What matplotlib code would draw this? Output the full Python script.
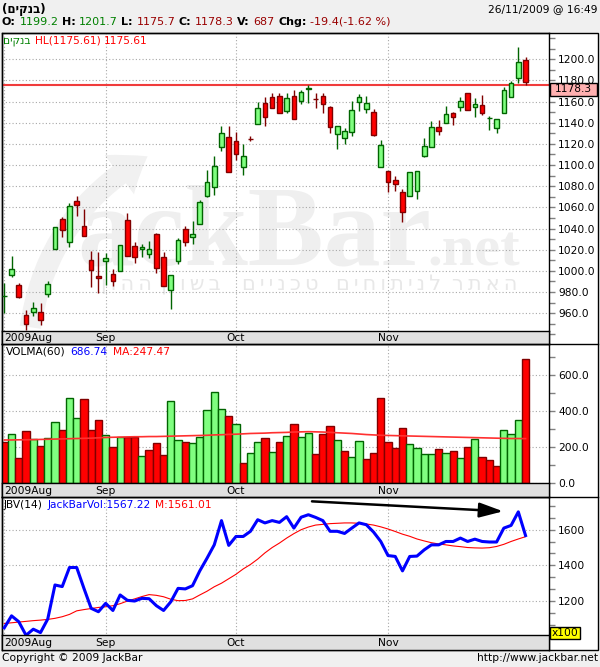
import matplotlib
matplotlib.use("Agg")
import matplotlib.pyplot as plt
from matplotlib.patches import Rectangle, FancyArrowPatch
from matplotlib.lines import Line2D
from matplotlib.transforms import Affine2D
from matplotlib.ticker import FormatStrFormatter
import numpy as np

plt.rcParams.update({'font.size': 7.7, 'font.family': ['DejaVu Sans']})

# ---------------- data ----------------
opens = [976.2, 995.9, 986.5, 958.1, 961.6, 961.0, 977.9, 1020.5, 1048.8, 1027.0,
         1065.8, 1042.5, 1010.4, 995.3, 1009.8, 996.9, 999.7, 1047.9, 1023.3, 1020.5,
         1015.7, 1034.9, 1012.9, 982.0, 1009.8, 1039.4, 1031.8, 1044.1, 1071.2, 1079.1,
         1117.5, 1126.3, 1122.8, 1098.6, 1124.8, 1138.6, 1158.7, 1164.1, 1165.4, 1151.5,
         1165.4, 1160.9, 1171.7, 1162.8, 1165.4, 1154.6, 1129.1, 1125.4, 1131.3, 1159.7,
         1152.8, 1150.2, 1098.6, 1094.2, 1086.0, 1074.3, 1070.9, 1075.9, 1109.0, 1117.5,
         1136.4, 1140.2, 1149.0, 1154.6, 1167.9, 1154.6, 1156.5, 1144.6, 1134.8, 1149.6,
         1164.7, 1182.0, 1199.2]
highs = [988.3, 1014.2, 989.0, 963.1, 970.4, 969.4, 990.6, 1041.3, 1051.3, 1063.9,
         1070.9, 1058.6, 1019.2, 1018.0, 1016.7, 1001.6, 1024.2, 1054.5, 1027.4, 1025.5,
         1028.3, 1036.2, 1018.0, 995.9, 1030.9, 1042.5, 1047.2, 1067.0, 1095.4, 1108.7,
         1137.0, 1137.0, 1131.3, 1119.7, 1127.9, 1159.4, 1164.1, 1168.5, 1167.9, 1167.9,
         1171.0, 1171.0, 1175.4, 1167.9, 1167.9, 1155.9, 1137.0, 1134.8, 1160.6, 1166.9,
         1165.4, 1152.8, 1123.8, 1094.2, 1089.8, 1077.2, 1093.9, 1094.5, 1125.4, 1141.7,
         1142.7, 1155.9, 1150.6, 1164.7, 1167.9, 1163.1, 1166.3, 1146.5, 1143.3, 1173.5,
         1179.8, 1212.0, 1201.7]
lows = [960.0, 994.0, 974.0, 944.2, 956.9, 949.0, 975.7, 1020.5, 1031.8, 1022.4,
        1052.3, 1033.4, 984.3, 979.5, 986.8, 985.8, 999.7, 1014.2, 1007.2, 1013.5,
        1012.3, 998.4, 985.5, 963.8, 1006.6, 1023.9, 1025.2, 1044.1, 1069.6, 1071.8,
        1113.7, 1093.9, 1104.9, 1090.7, 1123.1, 1138.6, 1137.3, 1154.3, 1149.0, 1149.6,
        1143.3, 1157.5, 1159.1, 1153.7, 1149.0, 1130.7, 1115.0, 1120.3, 1127.6, 1151.5,
        1149.6, 1127.9, 1098.0, 1075.0, 1075.9, 1046.0, 1070.9, 1067.7, 1107.4, 1117.5,
        1128.5, 1140.2, 1138.0, 1151.5, 1152.1, 1145.8, 1147.4, 1133.2, 1130.7, 1149.0,
        1164.1, 1178.0, 1175.7]
closes = [976.6, 1001.6, 975.1, 949.6, 964.7, 953.7, 987.4, 1041.3, 1038.7, 1061.4,
          1062.0, 1033.4, 1000.9, 993.1, 1012.0, 990.9, 1024.2, 1014.2, 1012.9, 1022.4,
          1020.5, 1002.5, 985.5, 995.9, 1029.3, 1027.4, 1034.9, 1065.5, 1083.8, 1099.2,
          1130.1, 1093.9, 1110.2, 1108.3, 1124.2, 1153.7, 1145.8, 1154.3, 1149.6, 1163.1,
          1143.3, 1169.1, 1172.6, 1162.2, 1157.8, 1135.7, 1137.0, 1132.3, 1152.1, 1164.1,
          1158.7, 1128.5, 1119.1, 1084.4, 1081.9, 1056.1, 1093.9, 1094.5, 1118.1, 1135.7,
          1132.6, 1148.3, 1145.8, 1160.9, 1152.1, 1157.5, 1149.0, 1144.6, 1143.3, 1171.0,
          1177.3, 1197.2, 1178.3]

volume = [227, 271, 138, 290, 246, 207, 249, 338, 295, 471,
          360, 465, 295, 349, 266, 199, 258, 258, 255, 150,
          183, 222, 155, 454, 238, 227, 222, 258, 404, 504,
          410, 371, 327, 111, 166, 227, 249, 172, 227, 260,
          327, 255, 281, 161, 271, 316, 238, 177, 144, 233,
          133, 166, 471, 227, 194, 305, 216, 194, 161, 161,
          188, 166, 177, 138, 199, 244, 144, 127, 94, 294,
          271, 349, 687]
vol_up = [0, 1, 0, 0, 1, 0, 1, 1, 0, 1,
          1, 0, 0, 0, 1, 0, 1, 0, 0, 1,
          0, 0, 0, 1, 1, 0, 1, 1, 1, 1,
          1, 0, 1, 0, 1, 1, 0, 1, 0, 1,
          0, 1, 1, 0, 0, 0, 1, 0, 1, 1,
          0, 0, 0, 0, 0, 0, 1, 1, 1, 1,
          0, 1, 0, 1, 0, 1, 0, 0, 0, 1,
          1, 1, 0]
vol_ma = [240, 240, 241, 241, 242, 243, 244, 245, 246, 247,
          248, 249, 250, 252, 254, 255, 256, 257, 258, 258,
          259, 259, 260, 261, 262, 263, 264, 265, 266, 268,
          269, 271, 272, 274, 276, 277, 278, 280, 281, 282,
          284, 285, 286, 285, 284, 282, 280, 278, 276, 273,
          270, 268, 266, 265, 264, 263, 262, 261, 260, 259,
          258, 257, 256, 255, 254, 253, 252, 251, 250, 249,
          248, 248, 247.47]

jbv = [1050, 1117, 1084, 1008, 1042, 1023, 1099, 1290, 1281, 1388,
       1388, 1271, 1159, 1140, 1187, 1147, 1234, 1204, 1200, 1215,
       1213, 1174, 1147, 1196, 1271, 1268, 1286, 1369, 1440, 1515,
       1651, 1512, 1562, 1562, 1591, 1656, 1638, 1651, 1641, 1673,
       1609, 1670, 1684, 1669, 1651, 1591, 1591, 1579, 1609, 1638,
       1628, 1587, 1534, 1455, 1450, 1369, 1450, 1452, 1487, 1515,
       1515, 1534, 1534, 1553, 1534, 1547, 1534, 1531, 1531, 1609,
       1624, 1700, 1567.22]
jbv_ma = [1074, 1078, 1082, 1086, 1090, 1093, 1097, 1103, 1112, 1125,
          1145, 1152, 1158, 1164, 1168, 1174, 1185, 1200, 1212, 1225,
          1236, 1232, 1224, 1210, 1202, 1203, 1212, 1234, 1255, 1280,
          1300, 1325, 1350, 1380, 1405, 1435, 1470, 1500, 1525, 1553,
          1578, 1600, 1615, 1626, 1630, 1634, 1636, 1638, 1638, 1636,
          1632, 1626, 1616, 1604, 1590, 1575, 1563, 1548, 1537, 1527,
          1520, 1515, 1509, 1505, 1500, 1498, 1497, 1499, 1506, 1518,
          1534, 1548, 1561.01]

month_labels = ['2009Aug', 'Sep', 'Oct', 'Nov']
month_start = [0, 14, 32, 53]
hl_level = 1175.61
last_close = 1178.3
trend_from = (42.5, 1759)
trend_to = (68.9, 1703)

price_major = list(range(960, 1201, 20))
price_minor = list(range(940, 1221, 10))
vol_major = [0, 200, 400, 600]
vol_minor = [100, 300, 500, 700]
jbv_major = [1200, 1400, 1600]
jbv_minor = [1000, 1066.67, 1133.33, 1266.67, 1333.33, 1466.67, 1533.33, 1666.67, 1733.33]

# watermark slogan, one word at a time (right edge in pixels)
slogan_words = ['האתר', 'לניתוחים', 'טכניים', 'בשוק', 'ההון']
slogan_right = [517, 441, 318, 221, 152]

# ---------------- layout (pixel coords, top-left origin) ----------------
W, H = 600, 667
fig = plt.figure(figsize=(W / 100, H / 100), dpi=100, facecolor='#f0f0f0')
px = Affine2D().scale(1.0 / W, -1.0 / H).translate(0, 1) + fig.transFigure
XL, XR, XE = 1.7, 549.3, 598.0
xlim = (-0.36, 75.28)


def add_ax(top, bottom):
    return fig.add_axes([XL / W, 1 - bottom / H, (XR - XL) / W, (bottom - top) / H])


fig.add_artist(Rectangle((XL, 32.5), XE - XL, 650 - 32.5, transform=px,
                         facecolor='white', edgecolor='black', lw=1, zorder=-5))
for yy in (344, 497.3):
    fig.add_artist(Line2D([XL, XE], [yy, yy], transform=px, color='black', lw=1, zorder=6))

ax_p = add_ax(32.5, 344)
ax_v = add_ax(344, 497.3)
ax_j = add_ax(497.3, 650)
bands = [add_ax(330.7, 344), add_ax(483.3, 497.3), add_ax(635, 650)]

grid_kw = dict(color='#a8a8a8', lw=0.8, ls=(0, (1, 2)), zorder=0.5)


def style(ax, ylim, major, minor, fmt):
    ax.set_xlim(*xlim)
    ax.set_ylim(*ylim)
    ax.set_facecolor('none')
    for s in ('left', 'top', 'right'):
        ax.spines[s].set_linewidth(1)
    ax.spines['bottom'].set_visible(False)
    ax.tick_params(axis='x', which='both', bottom=False, labelbottom=False)
    ax.yaxis.tick_right()
    ax.set_yticks(major)
    ax.set_yticks(minor, minor=True)
    ax.yaxis.set_major_formatter(FormatStrFormatter(fmt))
    ax.tick_params(axis='y', which='both', length=4, width=1, color='#808080',
                   pad=2.5, labelsize=7.7, labelcolor='black')
    for v in major:
        ax.axhline(v, **grid_kw)
    for m in month_start:
        ax.axvline(m, **grid_kw)


style(ax_p, (930.9, 1225.3), price_major, price_minor, '%.1f')
style(ax_v, (-77.6, 771.7), vol_major, vol_minor, '%.1f')
style(ax_j, (925.4, 1781.7), jbv_major, jbv_minor, '%d')

for b in bands:
    b.set_xlim(*xlim)
    b.set_ylim(0, 1)
    b.set_facecolor('#e0e0e0')
    b.set_xticks([])
    b.set_yticks([])
    b.set_zorder(3)
    for s in b.spines.values():
        s.set_linewidth(1)
    for lab, m in zip(month_labels, month_start):
        if m == 0:
            b.text(0.004, 0.45, lab, transform=b.transAxes, ha='left', va='center', fontsize=7.7)
        else:
            b.text(m, 0.45, lab, ha='center', va='center', fontsize=7.7)

idx = np.arange(len(closes))

# ---------------- watermark ----------------
wm = '#efefef'
ax_p.text(77, 265, 'ackBar', transform=px, fontfamily='Liberation Serif', fontweight='bold',
          fontsize=82, color=wm, va='baseline', ha='left', zorder=0.2)
ax_p.text(427, 265, '.net', transform=px, fontfamily='Liberation Serif', fontweight='bold',
          fontsize=42, color=wm, va='baseline', ha='left', zorder=0.2)
for word, xr in zip(slogan_words, slogan_right):
    ax_p.text(xr, 290, '\u2009'.join(word[::-1]), transform=px, fontsize=15, color='#e8e8e8',
              va='baseline', ha='right', zorder=0.2)
ax_p.add_patch(FancyArrowPatch((30, 330), (150, 155), transform=px,
                               connectionstyle='arc3,rad=-0.25',
                               arrowstyle='simple,head_length=1.1,head_width=1.6,tail_width=0.7',
                               mutation_scale=22, color='#f1f1f1', lw=0, zorder=0.2))

# ---------------- price candles ----------------
o = np.array(opens)
c = np.array(closes)
up = c >= o
edge = np.where(up, '#006400', '#800000')
fill = np.where(up, '#80ff80', '#ff0000')
ax_p.vlines(idx, lows, highs, colors=edge, lw=1, zorder=2)
ax_p.bar(idx, np.maximum(np.abs(c - o), 0.3), bottom=np.minimum(o, c), width=0.64,
         color=fill, edgecolor=edge, lw=1, zorder=3)
ax_p.axhline(hl_level, color='#f03c3c', lw=1.5, zorder=1.5)

# ---------------- volume ----------------
vu = np.array(vol_up) == 1
ax_v.bar(idx, volume, width=1.0, color=np.where(vu, '#80ff80', '#ff0000'),
         edgecolor=np.where(vu, '#006400', '#800000'), lw=1, zorder=2)
ax_v.plot(idx, vol_ma, color='#ff3030', lw=1.2, zorder=3)

# ---------------- JBV ----------------
ax_j.plot(idx, jbv_ma, color='#ff0000', lw=0.8, zorder=2)
ax_j.plot(idx, jbv, color='#0000ff', lw=2.2, zorder=3)
ax_j.annotate('', xy=trend_to, xytext=trend_from,
              arrowprops=dict(arrowstyle='-|>,head_length=0.8,head_width=0.25', color='black',
                              lw=1.8, mutation_scale=18, shrinkA=0, shrinkB=0), zorder=4)

# ---------------- texts ----------------
renderer = fig.canvas.get_renderer()


def pieces(x, y, items, size=7.7):
    for s, col, wt, gap in items:
        t = fig.text(x, y, s, color=col, fontweight=wt, fontsize=size, va='center',
                     ha='left', transform=px)
        x += t.get_window_extent(renderer).width + gap


green, dred = '#008000', '#990000'
fig.text(2, 9, '(' + 'בנקים'[::-1] + ')', transform=px, fontweight='bold', fontsize=8.5,
         va='center', ha='left')
fig.text(597, 9, '26/11/2009 @ 16:49', transform=px, fontsize=7.7, va='center', ha='right')
pieces(2, 22, [('O:', 'black', 'bold', 3.5), ('1199.2', green, 'normal', 3.5),
               ('H:', 'black', 'bold', 3.5), ('1201.7', green, 'normal', 3.5),
               ('L:', 'black', 'bold', 3.5), ('1175.7', dred, 'normal', 3.5),
               ('C:', 'black', 'bold', 3.5), ('1178.3', dred, 'normal', 3.5),
               ('V:', 'black', 'bold', 3.5), ('687', dred, 'normal', 3.5),
               ('Chg:', 'black', 'bold', 3.5), ('-19.4(-1.62 %)', dred, 'normal', 0)], size=8)
pieces(3, 40.5, [('בנקים'[::-1], green, 'normal', 4), ('HL(1175.61)', 'red', 'normal', 4),
                 ('1175.61', 'red', 'normal', 0)])
pieces(6, 352, [('VOLMA(60)', 'black', 'normal', 5), ('686.74', 'blue', 'normal', 5),
                ('MA:247.47', 'red', 'normal', 0)])
pieces(4, 504.5, [('JBV(14)', 'black', 'normal', 5), ('JackBarVol:1567.22', 'blue', 'normal', 4),
                  ('M:1561.01', 'red', 'normal', 0)])

fig.add_artist(Rectangle((549.8, 82.7), 47.5, 13.3, transform=px, facecolor='#ffb0b0',
                         edgecolor='black', lw=1, zorder=7))
fig.text(573.5, 89.5, '%.1f' % last_close, transform=px, fontsize=7.7, va='center',
         ha='center', zorder=8)
fig.add_artist(Rectangle((550, 627), 30, 11.5, transform=px, facecolor='#ffff00',
                         edgecolor='black', lw=1, zorder=7))
fig.text(565, 632.8, 'x100', transform=px, fontsize=7.7, va='center', ha='center', zorder=8)

fig.text(2, 658, 'Copyright © 2009 JackBar', transform=px, fontsize=7.7, va='center', ha='left')
fig.text(598, 658, 'http://www.jackbar.net', transform=px, fontsize=7.7, va='center', ha='right')

fig.savefig('out.png', dpi=100, facecolor=fig.get_facecolor())
